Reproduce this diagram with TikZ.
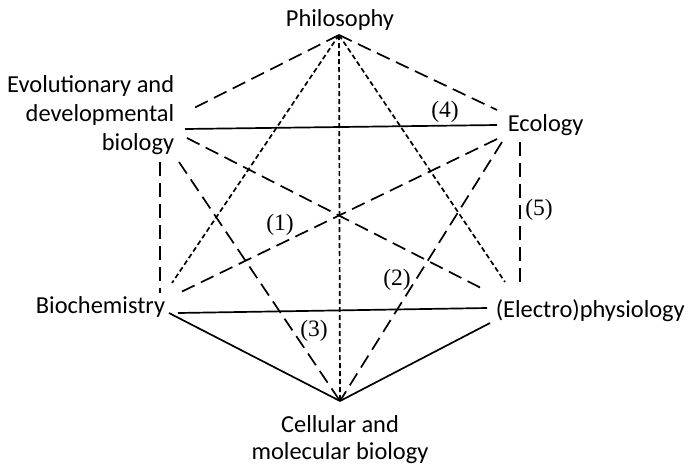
\documentclass[tikz,border=0pt]{standalone}
\usepackage{fontspec}
\newfontfamily\nodefont{Carlito}
\newfontfamily\numfont{Liberation Serif}
\begin{document}
\begin{tikzpicture}[x=1pt,y=-1pt,line width=1.7pt,
  lbl/.style={font=\nodefont\fontsize{24.4}{29}\selectfont,inner sep=0pt},
  num/.style={font=\numfont\fontsize{23.5}{26}\selectfont,inner sep=0pt},
  longdash/.style={dash pattern=on 14pt off 7pt},
  shortdash/.style={dash pattern=on 5pt off 3pt}]
\useasboundingbox (0,0) rectangle (691,467);
% text nodes
\node[lbl,anchor=base] (phil) at (340,26) {Philosophy};
\node[lbl,anchor=base east,align=right] (evo) at (175,150) {Evolutionary and\\developmental\\biology};
\node[lbl,anchor=base west] (eco) at (507,131) {Ecology};
\node[lbl,anchor=base east] (bio) at (166,313) {Biochemistry};
\node[lbl,anchor=base west] (ele) at (495,317) {(Electro)physiology};
\node[lbl,anchor=base,align=center,font=\nodefont\fontsize{24.4}{27}\selectfont] (cel) at (340,459) {Cellular and\\molecular biology};
% connector ends
\coordinate (P) at (339,35);
\coordinate (C) at (340,401);
\coordinate (evoP) at (190,110);
\coordinate (evoE) at (185,129);
\coordinate (evoX) at (187,138);
\coordinate (evoV) at (160,162);
\coordinate (evoC) at (179,162);
\coordinate (ecoP) at (497,110);
\coordinate (ecoE) at (497,125);
\coordinate (ecoB) at (497,139);
\coordinate (ecoC) at (502,142);
\coordinate (ecoV) at (520,142);
\coordinate (bioV) at (160,293);
\coordinate (bioP) at (172,283);
\coordinate (bioE) at (181,292);
\coordinate (bioX) at (178,313);
\coordinate (bioC) at (169,313);
\coordinate (eleP) at (505,282);
\coordinate (eleV) at (520,282);
\coordinate (eleX) at (485,290);
\coordinate (eleB) at (487,308);
\coordinate (eleC) at (490,323);
% long dashed
\draw[longdash] (P) -- (evoP);
\draw[longdash] (P) -- (ecoP);
\draw[longdash] (evoV) -- (bioV);
\draw[longdash] (ecoV) -- (eleV);
\draw[longdash] (evoX) -- (eleX);
\draw[longdash] (ecoB) -- (bioE);
\draw[longdash] (evoC) -- (C);
\draw[longdash] (ecoC) -- (C);
% short dashed
\draw[shortdash] (P) -- (bioP);
\draw[shortdash] (P) -- (C);
\draw[shortdash] (P) -- (eleP);
% solid
\draw (evoE) -- (ecoE);
\draw (bioX) -- (eleB);
\draw (bioC) -- (C);
\draw (eleC) -- (C);
% numbers
\node[num] (n1) at (280,225) {(1)};
\node[num] (n2) at (397,280) {(2)};
\node[num] (n3) at (314,331) {(3)};
\node[num] (n4) at (445,112) {(4)};
\node[num] (n5) at (539,210) {(5)};
\end{tikzpicture}
\end{document}
